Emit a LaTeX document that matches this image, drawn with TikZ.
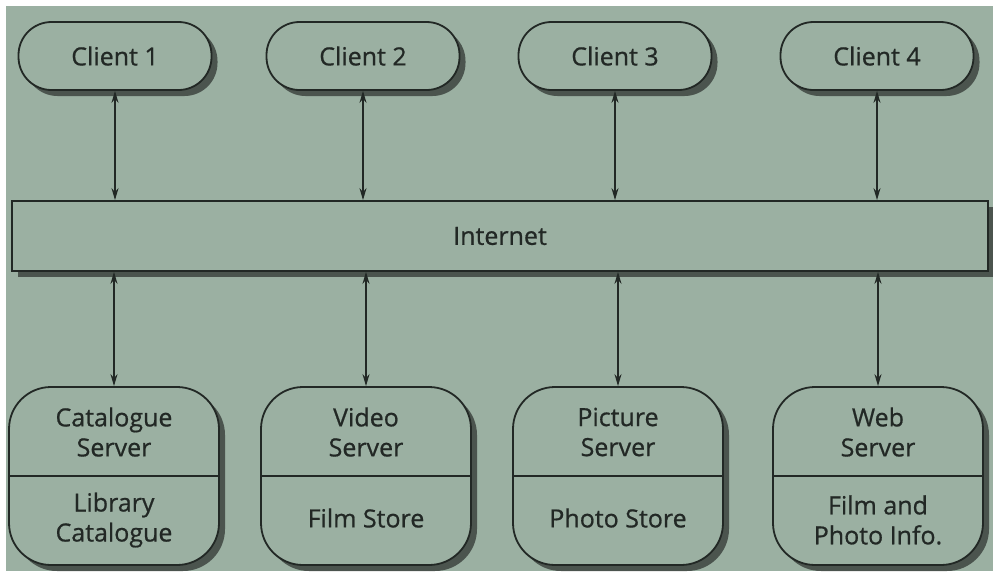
\documentclass[tikz,border=0pt]{standalone}
\usepackage{fontspec}
\setmainfont{Open Sans}[FakeBold=0.7]
\usetikzlibrary{shadows,arrows.meta}
\definecolor{paper}{RGB}{155,176,162}
\definecolor{ink}{RGB}{34,40,37}
\definecolor{shade}{RGB}{55,62,58}
\begin{document}
\begin{tikzpicture}[x=1pt,y=-1pt,
  font=\fontsize{25}{30}\selectfont,
  text=ink,
  box/.style={draw=ink, line width=1.8pt, fill=paper, inner sep=0pt,
    drop shadow={shadow xshift=6pt, shadow yshift=-6pt, fill=shade, opacity=0.8}},
  client/.style={box, rounded corners=33pt, minimum width=193pt, minimum height=68pt},
  server/.style={box, rounded corners=42pt, minimum width=210pt, minimum height=178pt},
  network/.style={box, minimum width=976pt, minimum height=70pt},
  label/.style={align=center, inner sep=0pt},
  link/.style={draw=ink, line width=1.5pt, {Stealth[length=12pt,width=7pt]}-{Stealth[length=12pt,width=7pt]}}
]
\useasboundingbox (0,0) rectangle (993,571);
\fill[white] (0,0) rectangle (993,571);
\fill[paper] (6,6) rectangle (993,571);

% clients
\node[client] (c1) at (115,56) {Client 1};
\node[client] (c2) at (363,56) {Client 2};
\node[client] (c3) at (615,56) {Client 3};
\node[client] (c4) at (877,56) {Client 4};

% network
\node[network] (net) at (500,236) {Internet};

% servers
\node[server] (s1) at (114,476) {};
\node[server] (s2) at (366,476) {};
\node[server] (s3) at (618,476) {};
\node[server] (s4) at (878,476) {};
\foreach \s in {s1,s2,s3,s4}
  \draw[ink, line width=1.8pt] (\s.west) -- (\s.east);

\node[label] (s1a) at ([yshift=44pt]s1.center) {Catalogue\\Server};
\node[label] (s1b) at ([yshift=-44pt]s1.center) {Library\\Catalogue};
\node[label] (s2a) at ([yshift=44pt]s2.center) {Video\\Server};
\node[label] (s2b) at ([yshift=-42pt]s2.center) {Film Store};
\node[label] (s3a) at ([yshift=44pt]s3.center) {Picture\\Server};
\node[label] (s3b) at ([yshift=-42pt]s3.center) {Photo Store};
\node[label] (s4a) at ([yshift=44pt]s4.center) {Web\\Server};
\node[label] (s4b) at ([yshift=-44pt]s4.center) {Film and\\Photo Info.};

% connectors
\foreach \c in {c1,c2,c3,c4}
  \draw[link] (\c.south) -- (\c.south |- net.north);
\foreach \s in {s1,s2,s3,s4}
  \draw[link] (\s.north |- net.south) -- (\s.north);
\end{tikzpicture}
\end{document}
